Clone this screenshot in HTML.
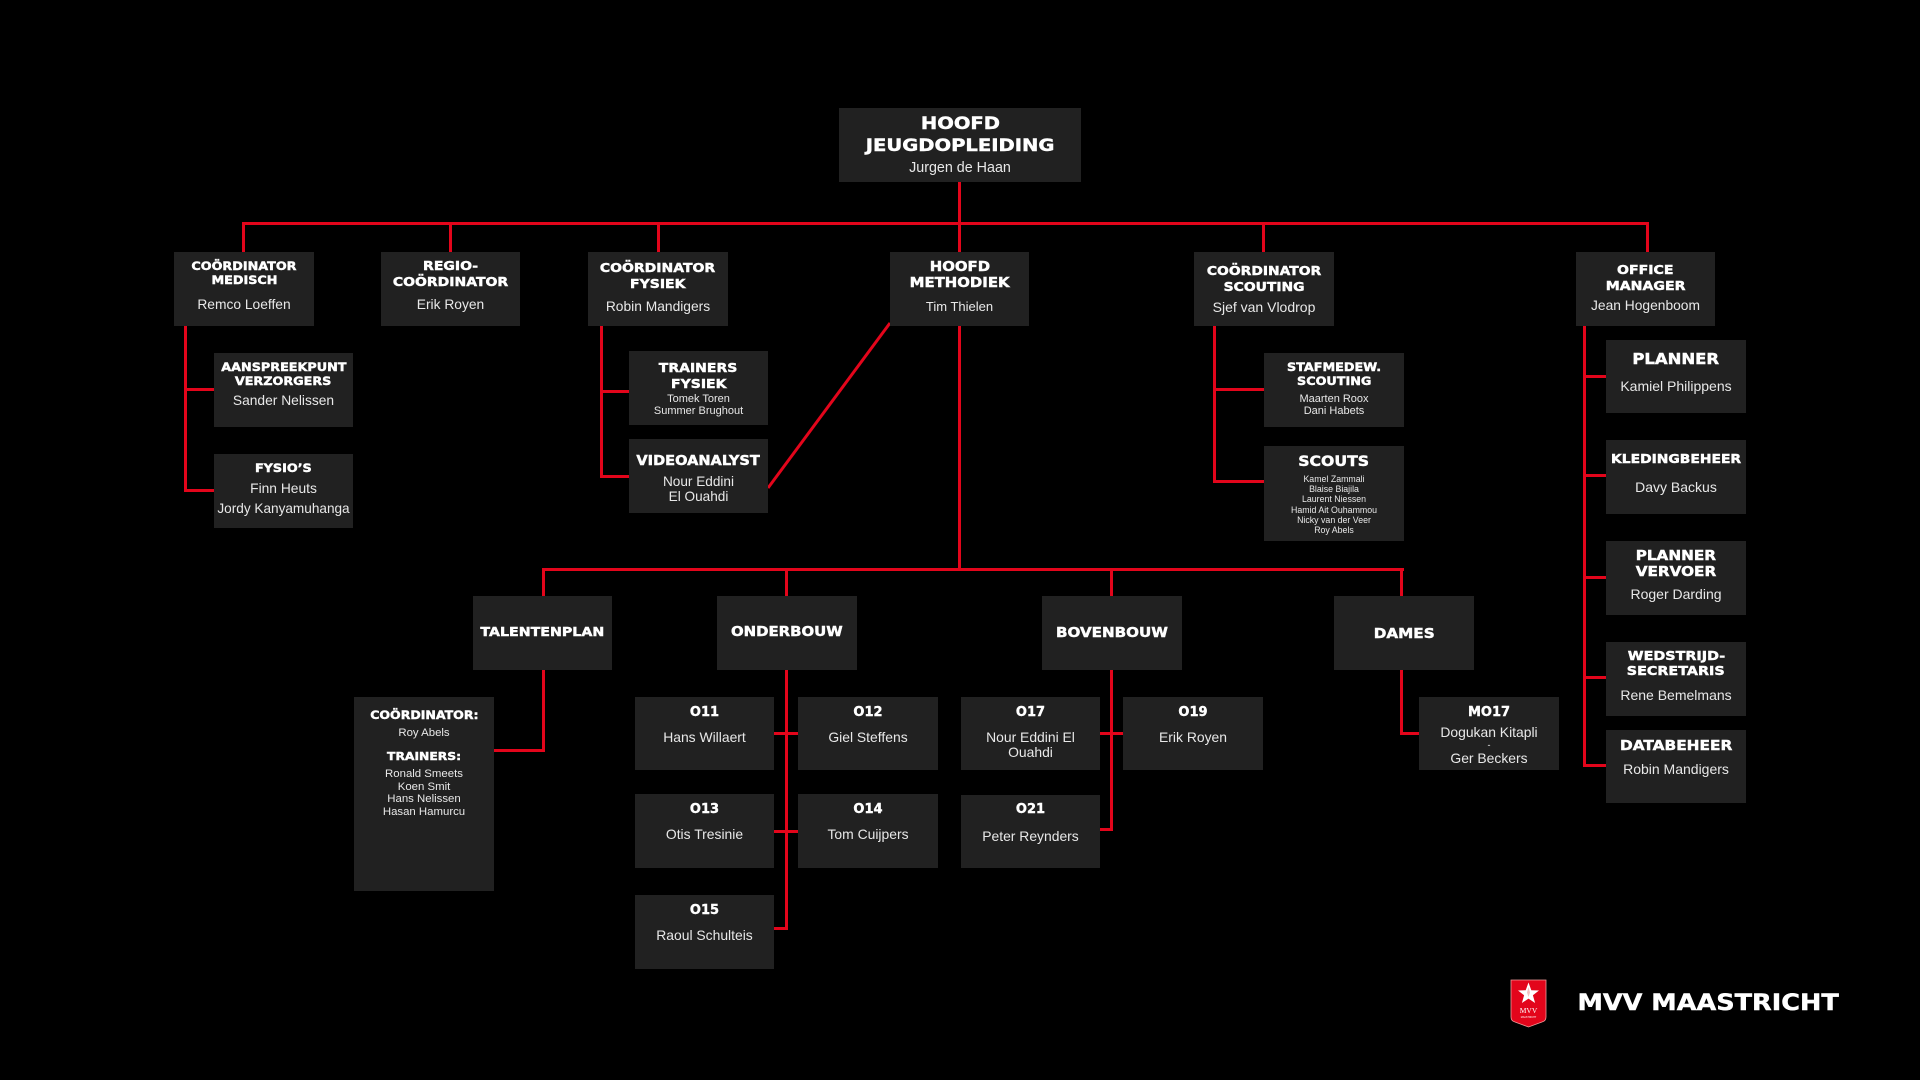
<!DOCTYPE html>
<html>
<head>
<meta charset="utf-8">
<style>
html,body{margin:0;padding:0;background:#000;}
body{width:1920px;height:1080px;position:relative;overflow:hidden;}
.b{position:absolute;background:#212121;}
.r{position:absolute;background:#e3051b;}
.t{position:absolute;height:20px;line-height:20px;text-align:center;white-space:nowrap;color:#fff;}
.t span{display:inline-block;}
.h{font-family:"DejaVu Sans","Liberation Sans",sans-serif;font-weight:bold;color:#fff;-webkit-text-stroke:0.45px #fff;}
.h span{transform:scaleX(1.12);}
.d{font-family:"DejaVu Sans","Liberation Sans",sans-serif;font-weight:bold;color:#fff;font-size:13px;-webkit-text-stroke:0.4px #fff;}
.n{font-family:"Liberation Sans",sans-serif;color:#e8e8e8;font-size:13.8px;}
.s{font-family:"Liberation Sans",sans-serif;color:#e8e8e8;font-size:11px;}
.x{font-family:"Liberation Sans",sans-serif;color:#e8e8e8;font-size:8.8px;}
</style>
</head>
<body>

<!-- ============ CONNECTORS ============ -->
<div class="r" style="left:958px;top:181px;width:3px;height:72px;"></div>
<div class="r" style="left:242px;top:222px;width:1407px;height:3px;"></div>
<div class="r" style="left:242px;top:222px;width:3px;height:31px;"></div>
<div class="r" style="left:449px;top:222px;width:3px;height:31px;"></div>
<div class="r" style="left:657px;top:222px;width:3px;height:31px;"></div>
<div class="r" style="left:1262px;top:222px;width:3px;height:31px;"></div>
<div class="r" style="left:1646px;top:222px;width:3px;height:31px;"></div>

<div class="r" style="left:184px;top:325px;width:3px;height:167px;"></div>
<div class="r" style="left:184px;top:388px;width:31px;height:3px;"></div>
<div class="r" style="left:184px;top:489px;width:31px;height:3px;"></div>

<div class="r" style="left:600px;top:325px;width:3px;height:153px;"></div>
<div class="r" style="left:600px;top:390px;width:30px;height:3px;"></div>
<div class="r" style="left:600px;top:475px;width:30px;height:3px;"></div>

<div class="r" style="left:958px;top:325px;width:3px;height:245px;"></div>

<div class="r" style="left:1213px;top:325px;width:3px;height:158px;"></div>
<div class="r" style="left:1213px;top:388px;width:52px;height:3px;"></div>
<div class="r" style="left:1213px;top:480px;width:52px;height:3px;"></div>

<div class="r" style="left:1583px;top:325px;width:3px;height:442px;"></div>
<div class="r" style="left:1583px;top:375px;width:24px;height:3px;"></div>
<div class="r" style="left:1583px;top:474px;width:24px;height:3px;"></div>
<div class="r" style="left:1583px;top:576px;width:24px;height:3px;"></div>
<div class="r" style="left:1583px;top:676px;width:24px;height:3px;"></div>
<div class="r" style="left:1583px;top:764px;width:24px;height:3px;"></div>

<div class="r" style="left:542px;top:568px;width:862px;height:3px;"></div>
<div class="r" style="left:542px;top:568px;width:3px;height:29px;"></div>
<div class="r" style="left:785px;top:568px;width:3px;height:29px;"></div>
<div class="r" style="left:1110px;top:568px;width:3px;height:29px;"></div>
<div class="r" style="left:1400px;top:568px;width:3px;height:29px;"></div>

<div class="r" style="left:542px;top:669px;width:3px;height:83px;"></div>
<div class="r" style="left:493px;top:749px;width:52px;height:3px;"></div>

<div class="r" style="left:785px;top:669px;width:3px;height:261px;"></div>
<div class="r" style="left:774px;top:732px;width:25px;height:3px;"></div>
<div class="r" style="left:774px;top:830px;width:25px;height:3px;"></div>
<div class="r" style="left:774px;top:927px;width:14px;height:3px;"></div>

<div class="r" style="left:1110px;top:669px;width:3px;height:162px;"></div>
<div class="r" style="left:1100px;top:732px;width:24px;height:3px;"></div>
<div class="r" style="left:1100px;top:828px;width:13px;height:3px;"></div>

<div class="r" style="left:1400px;top:669px;width:3px;height:66px;"></div>
<div class="r" style="left:1400px;top:732px;width:20px;height:3px;"></div>

<svg style="position:absolute;left:0;top:0" width="1920" height="1080">
<line x1="890" y1="323" x2="768" y2="488" stroke="#e3051b" stroke-width="3"/>
</svg>

<!-- ============ BOXES ============ -->
<div class="b" style="left:839px;top:108px;width:242px;height:74px;"></div>

<div class="b" style="left:174px;top:252px;width:140px;height:74px;"></div>
<div class="b" style="left:381px;top:252px;width:139px;height:74px;"></div>
<div class="b" style="left:588px;top:252px;width:140px;height:74px;"></div>
<div class="b" style="left:890px;top:252px;width:139px;height:74px;"></div>
<div class="b" style="left:1194px;top:252px;width:140px;height:74px;"></div>
<div class="b" style="left:1576px;top:252px;width:139px;height:74px;"></div>

<div class="b" style="left:214px;top:353px;width:139px;height:74px;"></div>
<div class="b" style="left:214px;top:454px;width:139px;height:74px;"></div>
<div class="b" style="left:629px;top:351px;width:139px;height:74px;"></div>
<div class="b" style="left:629px;top:439px;width:139px;height:74px;"></div>
<div class="b" style="left:1264px;top:353px;width:140px;height:74px;"></div>
<div class="b" style="left:1264px;top:446px;width:140px;height:95px;"></div>

<div class="b" style="left:1606px;top:340px;width:140px;height:73px;"></div>
<div class="b" style="left:1606px;top:440px;width:140px;height:74px;"></div>
<div class="b" style="left:1606px;top:541px;width:140px;height:74px;"></div>
<div class="b" style="left:1606px;top:642px;width:140px;height:74px;"></div>
<div class="b" style="left:1606px;top:730px;width:140px;height:73px;"></div>

<div class="b" style="left:473px;top:596px;width:139px;height:74px;"></div>
<div class="b" style="left:717px;top:596px;width:140px;height:74px;"></div>
<div class="b" style="left:1042px;top:596px;width:140px;height:74px;"></div>
<div class="b" style="left:1334px;top:596px;width:140px;height:74px;"></div>

<div class="b" style="left:354px;top:697px;width:140px;height:194px;"></div>
<div class="b" style="left:635px;top:697px;width:139px;height:73px;"></div>
<div class="b" style="left:798px;top:697px;width:140px;height:73px;"></div>
<div class="b" style="left:635px;top:794px;width:139px;height:74px;"></div>
<div class="b" style="left:798px;top:794px;width:140px;height:74px;"></div>
<div class="b" style="left:635px;top:895px;width:139px;height:74px;"></div>
<div class="b" style="left:961px;top:697px;width:139px;height:73px;"></div>
<div class="b" style="left:1123px;top:697px;width:140px;height:73px;"></div>
<div class="b" style="left:961px;top:795px;width:139px;height:73px;"></div>
<div class="b" style="left:1419px;top:697px;width:140px;height:73px;"></div>

<!-- ============ TEXT ============ -->
<div class="t h" style="left:839px;width:242px;top:114px;font-size:17px;"><span style="transform:scaleX(1.15)">HOOFD</span></div>
<div class="t h" style="left:839px;width:242px;top:136px;font-size:17px;"><span style="transform:scaleX(1.15)">JEUGDOPLEIDING</span></div>
<div class="t n" style="left:839px;width:242px;top:158px;font-size:14.3px;"><span>Jurgen de Haan</span></div>

<div class="t h" style="left:174px;width:140px;top:256px;font-size:11.4px;"><span>COÖRDINATOR</span></div>
<div class="t h" style="left:174px;width:140px;top:270px;font-size:11.4px;"><span>MEDISCH</span></div>
<div class="t n" style="left:174px;width:140px;top:295px;"><span>Remco Loeffen</span></div>

<div class="t h" style="left:381px;width:139px;top:256px;font-size:12.5px;"><span>REGIO-</span></div>
<div class="t h" style="left:381px;width:139px;top:272px;font-size:12.5px;"><span>COÖRDINATOR</span></div>
<div class="t n" style="left:381px;width:139px;top:295px;"><span>Erik Royen</span></div>

<div class="t h" style="left:588px;width:140px;top:258px;font-size:12.5px;"><span>COÖRDINATOR</span></div>
<div class="t h" style="left:588px;width:140px;top:274px;font-size:12.5px;"><span>FYSIEK</span></div>
<div class="t n" style="left:588px;width:140px;top:297px;"><span>Robin Mandigers</span></div>

<div class="t h" style="left:890px;width:139px;top:258px;font-size:13.3px;"><span>HOOFD</span></div>
<div class="t h" style="left:890px;width:139px;top:274px;font-size:13.3px;"><span>METHODIEK</span></div>
<div class="t n" style="left:890px;width:139px;top:297px;font-size:13px;"><span>Tim Thielen</span></div>

<div class="t h" style="left:1194px;width:140px;top:261px;font-size:12.4px;"><span>COÖRDINATOR</span></div>
<div class="t h" style="left:1194px;width:140px;top:277px;font-size:12.4px;"><span>SCOUTING</span></div>
<div class="t n" style="left:1194px;width:140px;top:297px;font-size:14px;"><span>Sjef van Vlodrop</span></div>

<div class="t h" style="left:1576px;width:139px;top:260px;font-size:12.6px;"><span>OFFICE</span></div>
<div class="t h" style="left:1576px;width:139px;top:276px;font-size:12.6px;"><span>MANAGER</span></div>
<div class="t n" style="left:1576px;width:139px;top:296px;"><span>Jean Hogenboom</span></div>

<div class="t h" style="left:214px;width:139px;top:357px;font-size:11.4px;"><span>AANSPREEKPUNT</span></div>
<div class="t h" style="left:214px;width:139px;top:371px;font-size:11.4px;"><span>VERZORGERS</span></div>
<div class="t n" style="left:214px;width:139px;top:391px;"><span>Sander Nelissen</span></div>

<div class="t h" style="left:214px;width:139px;top:458px;font-size:11.4px;"><span>FYSIO’S</span></div>
<div class="t n" style="left:214px;width:139px;top:479px;"><span>Finn Heuts</span></div>
<div class="t n" style="left:214px;width:139px;top:499px;font-size:13.6px;"><span>Jordy Kanyamuhanga</span></div>

<div class="t h" style="left:629px;width:139px;top:358px;font-size:12.5px;"><span>TRAINERS</span></div>
<div class="t h" style="left:629px;width:139px;top:374px;font-size:12.5px;"><span>FYSIEK</span></div>
<div class="t s" style="left:629px;width:139px;top:389px;"><span>Tomek Toren</span></div>
<div class="t s" style="left:629px;width:139px;top:401px;"><span>Summer Brughout</span></div>

<div class="t h" style="left:629px;width:139px;top:452px;font-size:13px;"><span>VIDEOANALYST</span></div>
<div class="t n" style="left:629px;width:139px;top:472px;font-size:13.6px;"><span>Nour Eddini</span></div>
<div class="t n" style="left:629px;width:139px;top:487px;font-size:13.6px;"><span>El Ouahdi</span></div>

<div class="t h" style="left:1264px;width:140px;top:357px;font-size:11.4px;"><span>STAFMEDEW.</span></div>
<div class="t h" style="left:1264px;width:140px;top:371px;font-size:11.4px;"><span>SCOUTING</span></div>
<div class="t s" style="left:1264px;width:140px;top:389px;"><span>Maarten Roox</span></div>
<div class="t s" style="left:1264px;width:140px;top:401px;"><span>Dani Habets</span></div>

<div class="t h" style="left:1264px;width:140px;top:452px;font-size:14px;"><span>SCOUTS</span></div>
<div class="t x" style="left:1264px;width:140px;top:469px;"><span>Kamel Zammali</span></div>
<div class="t x" style="left:1264px;width:140px;top:479px;"><span>Blaise Biajila</span></div>
<div class="t x" style="left:1264px;width:140px;top:489px;"><span>Laurent Niessen</span></div>
<div class="t x" style="left:1264px;width:140px;top:500px;"><span>Hamid Ait Ouhammou</span></div>
<div class="t x" style="left:1264px;width:140px;top:510px;"><span>Nicky van der Veer</span></div>
<div class="t x" style="left:1264px;width:140px;top:520px;"><span>Roy Abels</span></div>

<div class="t h" style="left:1606px;width:140px;top:350px;font-size:14.7px;"><span>PLANNER</span></div>
<div class="t n" style="left:1606px;width:140px;top:376px;font-size:14px;"><span>Kamiel Philippens</span></div>

<div class="t h" style="left:1606px;width:140px;top:449px;font-size:12.4px;"><span>KLEDINGBEHEER</span></div>
<div class="t n" style="left:1606px;width:140px;top:477px;font-size:14px;"><span>Davy Backus</span></div>

<div class="t h" style="left:1606px;width:140px;top:546px;font-size:13.6px;"><span>PLANNER</span></div>
<div class="t h" style="left:1606px;width:140px;top:562px;font-size:13.6px;"><span>VERVOER</span></div>
<div class="t n" style="left:1606px;width:140px;top:584px;font-size:14px;"><span>Roger Darding</span></div>

<div class="t h" style="left:1606px;width:140px;top:647px;font-size:12.8px;"><span>WEDSTRIJD-</span></div>
<div class="t h" style="left:1606px;width:140px;top:662px;font-size:12.8px;"><span>SECRETARIS</span></div>
<div class="t n" style="left:1606px;width:140px;top:685px;font-size:14px;"><span>Rene Bemelmans</span></div>

<div class="t h" style="left:1606px;width:140px;top:736px;font-size:13.7px;"><span>DATABEHEER</span></div>
<div class="t n" style="left:1606px;width:140px;top:759px;font-size:14px;"><span>Robin Mandigers</span></div>

<div class="t h" style="left:473px;width:139px;top:622px;font-size:12.7px;"><span>TALENTENPLAN</span></div>
<div class="t h" style="left:717px;width:140px;top:623px;font-size:13.3px;"><span>ONDERBOUW</span></div>
<div class="t h" style="left:1042px;width:140px;top:623px;font-size:13.5px;"><span>BOVENBOUW</span></div>
<div class="t h" style="left:1334px;width:140px;top:624px;font-size:13.6px;"><span>DAMES</span></div>

<div class="t h" style="left:354px;width:140px;top:706px;font-size:11.2px;"><span>COÖRDINATOR:</span></div>
<div class="t s" style="left:354px;width:140px;top:723px;font-size:11.4px;"><span>Roy Abels</span></div>
<div class="t h" style="left:354px;width:140px;top:747px;font-size:11px;"><span>TRAINERS:</span></div>
<div class="t s" style="left:354px;width:140px;top:764px;font-size:11.4px;"><span>Ronald Smeets</span></div>
<div class="t s" style="left:354px;width:140px;top:777px;font-size:11.4px;"><span>Koen Smit</span></div>
<div class="t s" style="left:354px;width:140px;top:789px;font-size:11.4px;"><span>Hans Nelissen</span></div>
<div class="t s" style="left:354px;width:140px;top:802px;font-size:11.4px;"><span>Hasan Hamurcu</span></div>

<div class="t d" style="left:635px;width:139px;top:703px;"><span>O11</span></div>
<div class="t n" style="left:635px;width:139px;top:727px;font-size:13.9px;"><span>Hans Willaert</span></div>

<div class="t d" style="left:798px;width:140px;top:703px;"><span>O12</span></div>
<div class="t n" style="left:798px;width:140px;top:727px;font-size:13.9px;"><span>Giel Steffens</span></div>

<div class="t d" style="left:635px;width:139px;top:800px;"><span>O13</span></div>
<div class="t n" style="left:635px;width:139px;top:824px;font-size:13.9px;"><span>Otis Tresinie</span></div>

<div class="t d" style="left:798px;width:140px;top:800px;"><span>O14</span></div>
<div class="t n" style="left:798px;width:140px;top:824px;font-size:13.9px;"><span>Tom Cuijpers</span></div>

<div class="t d" style="left:635px;width:139px;top:901px;"><span>O15</span></div>
<div class="t n" style="left:635px;width:139px;top:925px;font-size:13.9px;"><span>Raoul Schulteis</span></div>

<div class="t d" style="left:961px;width:139px;top:703px;"><span>O17</span></div>
<div class="t n" style="left:961px;width:139px;top:727px;font-size:13.9px;"><span>Nour Eddini El</span></div>
<div class="t n" style="left:961px;width:139px;top:742px;font-size:13.9px;"><span>Ouahdi</span></div>

<div class="t d" style="left:1123px;width:140px;top:703px;"><span>O19</span></div>
<div class="t n" style="left:1123px;width:140px;top:727px;font-size:13.9px;"><span>Erik Royen</span></div>

<div class="t d" style="left:961px;width:139px;top:800px;"><span>O21</span></div>
<div class="t n" style="left:961px;width:139px;top:826px;font-size:13.9px;"><span>Peter Reynders</span></div>

<div class="t d" style="left:1419px;width:140px;top:703px;"><span>MO17</span></div>
<div class="t n" style="left:1419px;width:140px;top:722px;font-size:13.9px;"><span>Dogukan Kitapli</span></div>
<div class="t n" style="left:1419px;width:140px;top:735px;font-size:9px;"><span>-</span></div>
<div class="t n" style="left:1419px;width:140px;top:748px;font-size:13.9px;"><span>Ger Beckers</span></div>

<!-- ============ LOGO ============ -->
<svg style="position:absolute;left:1510px;top:979px" width="38" height="49" viewBox="0 0 38 49">
<path d="M1,1 H36 V38 Q36,42 32,43 L18.5,48 L5,43 Q1,42 1,38 Z" fill="#e3051b" stroke="#f19a9a" stroke-width="0.8"/>
<polygon points="18.5,3.5 21.3,11.2 29,11.5 22.9,16.3 25.1,24 18.5,19.6 11.9,24 14.1,16.3 8,11.5 15.7,11.2" fill="#fff"/>
<polygon points="18.5,8 20,13.5 18.5,18 17,13.5" fill="#f3c0c0"/>
<text x="18.5" y="34" text-anchor="middle" font-family="Liberation Serif, serif" font-size="7.5" fill="#fff">MVV</text>
<text x="18.5" y="39" text-anchor="middle" font-family="Liberation Sans, sans-serif" font-size="2.4" fill="#fff">MAASTRICHT</text>
</svg>
<div class="t h" style="left:1560px;width:297px;top:992px;height:22px;line-height:22px;font-size:22.5px;"><span style="transform:scaleX(1.135)">MVV MAASTRICHT</span></div>

</body>
</html>
